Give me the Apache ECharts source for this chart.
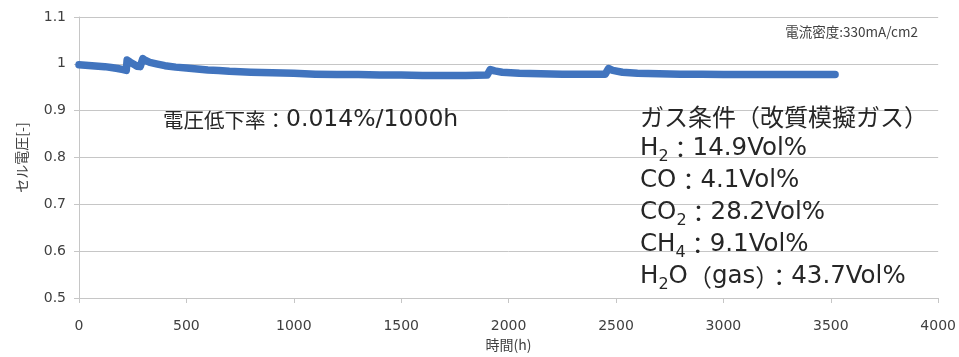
<!DOCTYPE html>
<html>
<head>
<meta charset="utf-8">
<script src="https://cdn.jsdelivr.net/npm/echarts@6/dist/echarts.min.js"></script>
<style>
  html, body { margin: 0; padding: 0; background: #fff; }
  #chart { width: 959px; height: 357px; }
</style>
</head>
<body>
<div id="chart"></div>
<script>
// 経過時間 (h) とセル電圧 [-]
const hours = [0, 30, 60, 90, 120, 150, 180, 200, 220,
  224, 240, 255, 270, 285,
  297, 310, 330, 360, 400, 450, 500, 550, 600, 650, 700, 800, 900, 1000,
  1100, 1200, 1300, 1400, 1500, 1600, 1700, 1800, 1900,
  1915, 1935, 1970, 2050, 2150, 2250, 2350, 2450,
  2465, 2485, 2530, 2600, 2700, 2800, 2900, 3000, 3100, 3200, 3300, 3400, 3520];
const voltage = [0.998, 0.997, 0.996, 0.995, 0.994, 0.992, 0.990, 0.988, 0.986,
  1.008, 1.003, 0.999, 0.995, 0.994,
  1.011, 1.007, 1.003, 1.000, 0.996, 0.993, 0.991, 0.989, 0.987, 0.986, 0.984, 0.982, 0.981, 0.980,
  0.978, 0.977, 0.977, 0.976, 0.976, 0.975, 0.975, 0.975, 0.976,
  0.988, 0.985, 0.982, 0.980, 0.979, 0.978, 0.978, 0.978,
  0.990, 0.986, 0.982, 0.980, 0.979, 0.978, 0.978, 0.977, 0.977, 0.977, 0.977, 0.977, 0.977];

const rateText = '{j|電圧低下率：}0.014%/1000h';
const densityText = '電流密度:330mA/cm2';
const gasLines = [
  '{j|ガス条件（改質模擬ガス）}',
  'H{sub|2}{j|：}14.9Vol%',
  'CO{j|：}4.1Vol%',
  'CO{sub|2}{j|：}28.2Vol%',
  'CH{sub|4}{j|：}9.1Vol%',
  'H{sub|2}O{j|（}gas{j|）：}43.7Vol%'
];

const chart = echarts.init(document.getElementById('chart'));
const latin = '"DejaVu Sans", "Noto Sans CJK JP", sans-serif';
const jp = '"Noto Sans CJK JP", sans-serif';
const gray = '#c6c6c6';
const ink = '#262626';

chart.setOption({
  animation: false,
  grid: { left: 79, right: 7, top: 17, bottom: 57 },
  title: [
    {
      text: densityText, right: 41, top: 25, padding: 0,
      textStyle: { fontSize: 13.5, fontWeight: 'normal', color: '#404040', fontFamily: jp }
    },
    {
      text: rateText, left: 163, top: 108, padding: 0,
      textStyle: {
        fontSize: 23.5, fontWeight: 'normal', color: ink, fontFamily: latin,
        rich: { j: { fontSize: 20.5, color: ink, fontFamily: jp } }
      }
    },
    {
      text: gasLines.join('\n'), left: 640, top: 101, padding: 0,
      textStyle: {
        fontSize: 24.5, fontWeight: 'normal', color: ink, fontFamily: latin, lineHeight: 32,
        rich: {
          j: { fontSize: 24, color: ink, fontFamily: jp },
          sub: { fontSize: 16, lineHeight: 15, verticalAlign: 'bottom', color: ink, fontFamily: latin }
        }
      }
    }
  ],
  xAxis: {
    type: 'value', min: 0, max: 4000, interval: 500,
    name: '時間(h)', nameLocation: 'middle', nameGap: 40,
    nameTextStyle: { fontSize: 14, color: '#404040', fontFamily: jp },
    axisLine: { lineStyle: { color: gray } },
    axisTick: { show: true, length: 5, lineStyle: { color: gray } },
    axisLabel: { margin: 21, fontSize: 14, color: '#404040', fontFamily: latin, formatter: v => String(v) },
    splitLine: { show: false }
  },
  yAxis: {
    type: 'value', min: 0.5, max: 1.1, interval: 0.1,
    name: 'セル電圧[-]', nameLocation: 'middle', nameGap: 50, nameRotate: 90,
    nameTextStyle: { fontSize: 14, color: '#404040', fontFamily: jp },
    axisLine: { show: true, lineStyle: { color: gray } },
    axisTick: { show: true, length: 5, lineStyle: { color: gray } },
    axisLabel: { margin: 13, fontSize: 14, color: '#404040', fontFamily: latin,
      formatter: v => String(Math.round(v * 10) / 10) },
    splitLine: { lineStyle: { color: gray } }
  },
  series: [{
    type: 'line',
    data: hours.map((h, i) => [h, voltage[i]]),
    showSymbol: false,
    lineStyle: { width: 7.5, color: '#4174be', cap: 'round', join: 'round' },
    itemStyle: { color: '#4174be' }
  }]
});
</script>
</body>
</html>
